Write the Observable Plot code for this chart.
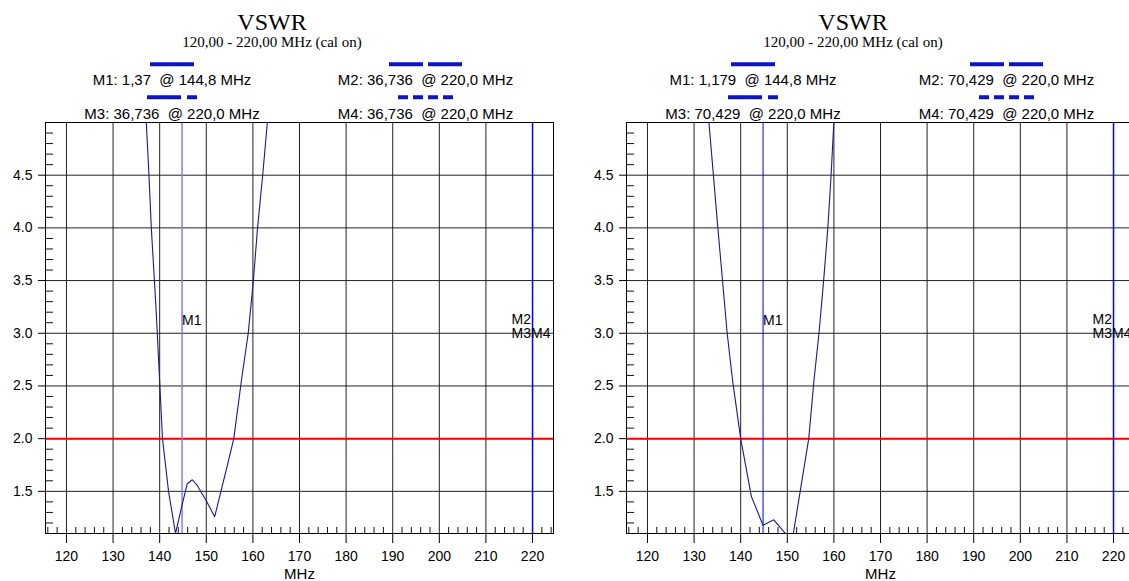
<!DOCTYPE html>
<html><head><meta charset="utf-8">
<script src="https://cdn.jsdelivr.net/npm/d3@7"></script>
<script src="https://cdn.jsdelivr.net/npm/@observablehq/plot@0.6"></script>
<style>
html,body{margin:0;padding:0;background:#fff;}
#root{position:relative;width:1129px;height:581px;overflow:hidden;background:#fff;}
.panel{position:absolute;top:0;width:580px;height:581px;}
.panel svg{position:absolute;left:0;top:0;}
</style></head><body><div id="root"></div>
<script>
// ---- data ----
const chartTitle = "VSWR";
const chartSubtitle = "120,00 - 220,00 MHz (cal on)";
const xLabel = "MHz";
const xTicks = [120, 130, 140, 150, 160, 170, 180, 190, 200, 210, 220];
const yTicks = [1.5, 2.0, 2.5, 3.0, 3.5, 4.0, 4.5];
const xMinor = [116,118,122,124,126,128,132,134,136,138,142,144,146,148,152,154,156,158,162,164,166,168,172,174,176,178,182,184,186,188,192,194,196,198,202,204,206,208,212,214,216,218,222,224];
const yMinor = [1.2,1.3,1.4,1.6,1.7,1.8,1.9,2.1,2.2,2.3,2.4,2.6,2.7,2.8,2.9,3.1,3.2,3.3,3.4,3.6,3.7,3.8,3.9,4.1,4.2,4.3,4.4,4.6,4.7,4.8,4.9];
const limitVSWR = 2.0;
const markerM1 = 144.8;
const markerM234 = 220.0;

// left chart
const freqA = [136.9, 137.7, 138.2, 139.25, 140.0, 140.6, 141.9, 143.4, 144.8, 145.9, 147.0, 148.0, 150.0, 151.8, 154.6, 155.9, 157.5, 159.0, 160.1, 161.0, 162.1, 163.3];
const vswrA = [5.2, 4.5, 4.0, 3.21, 2.54, 2.0, 1.5, 1.1, 1.37, 1.57, 1.61, 1.56, 1.41, 1.26, 1.76, 2.0, 2.54, 3.0, 3.5, 4.0, 4.5, 5.1];
const legendA = ["M1: 1,37  @ 144,8 MHz", "M2: 36,736  @ 220,0 MHz", "M3: 36,736  @ 220,0 MHz", "M4: 36,736  @ 220,0 MHz"];

// right chart
const freqB = [133.0, 135.1, 137.1, 138.3, 140.0, 142.3, 144.8, 147.1, 149.6, 150.5, 151.3, 154.6, 155.7, 156.8, 157.8, 158.7, 159.4, 160.1];
const vswrB = [5.1, 4.0, 3.0, 2.54, 2.0, 1.45, 1.179, 1.23, 1.1, 1.0, 1.1, 2.0, 2.54, 3.0, 3.5, 4.0, 4.5, 5.1];
const legendB = ["M1: 1,179  @ 144,8 MHz", "M2: 70,429  @ 220,0 MHz", "M3: 70,429  @ 220,0 MHz", "M4: 70,429  @ 220,0 MHz"];

// ---- drawing ----
const sans = "'Liberation Sans', Arial, sans-serif";
const serif = "'Liberation Serif', 'Times New Roman', serif";
const gridColor = "#222";
const curveColor = "#1a1a8c";
const legendColor = "#0a14c8";

function panel(left, freq, vswr, legend, m1Color, m1Width) {
  const div = document.createElement("div");
  div.className = "panel";
  div.style.left = left + "px";
  document.getElementById("root").appendChild(div);

  const data = freq.map((f, i) => ({f, v: vswr[i]}));
  const chart = Plot.plot({
    width: 580, height: 581,
    marginTop: 122, marginBottom: 48, marginLeft: 45, marginRight: 27,
    x: {domain: [115.5, 224.5]},
    y: {domain: [1.1, 5.0]},
    style: {fontFamily: sans, fontSize: "14px", color: "black", background: "transparent", overflow: "visible"},
    marks: [
      Plot.ruleX(xTicks, {stroke: gridColor}),
      Plot.ruleY(yTicks, {stroke: gridColor}),
      Plot.tickY(yMinor, {y: d => d, insetRight: 500, stroke: "#111"}),
      Plot.tickX(xMinor, {x: d => d, insetTop: 405, stroke: "#111"}),
      Plot.ruleY([limitVSWR], {stroke: "#ff0000", strokeWidth: 2}),
      Plot.ruleX([markerM1], {stroke: m1Color, strokeWidth: m1Width}),
      Plot.ruleX([markerM234], {stroke: "#0000ff", strokeWidth: 1.5}),
      Plot.line(data, {x: "f", y: "v", stroke: curveColor, strokeWidth: 1.1, clip: true}),
      Plot.text(["M1"], {x: () => markerM1, y: () => 3.0, text: d => d, textAnchor: "start", lineAnchor: "bottom", dx: 0, dy: -8, fontSize: 14}),
      Plot.text(["M2"], {x: () => markerM234, y: () => 3.0, text: d => d, textAnchor: "start", lineAnchor: "bottom", dx: -21, dy: -9, fontSize: 14}),
      Plot.text(["M3M4"], {x: () => markerM234, y: () => 3.0, text: d => d, textAnchor: "start", lineAnchor: "bottom", dx: -21, dy: 5, fontSize: 14}),
      Plot.axisX({ticks: xTicks, tickSize: 10, tickPadding: 8, fontSize: 14, label: null, stroke: "black"}),
      Plot.axisY({ticks: yTicks, tickSize: 7, tickPadding: 6, fontSize: 14, label: null, tickFormat: d => d.toFixed(1), stroke: "black"}),
      Plot.text([xLabel], {frameAnchor: "bottom", dy: 45, lineAnchor: "bottom", fontSize: 15}),
      Plot.frame({stroke: "black"})
    ]
  });
  div.appendChild(chart);

  // header: title, subtitle, marker legend
  const hdr = d3.select(div).append("svg").attr("width", 580).attr("height", 122);
  hdr.append("text").attr("x", 272).attr("y", 30).attr("text-anchor", "middle")
    .style("font-family", serif).style("font-size", "24px").text(chartTitle);
  hdr.append("text").attr("x", 272).attr("y", 47).attr("text-anchor", "middle")
    .style("font-family", serif).style("font-size", "15px").text(chartSubtitle);
  const samples = [
    {x1: 150, x2: 194, y: 64.3, dash: null},
    {x1: 389, x2: 462, y: 64.3, dash: "34 5"},
    {x1: 147, x2: 197, y: 97.3, dash: "34 6 10 6"},
    {x1: 398, x2: 454, y: 97.3, dash: "10 5"}
  ];
  const labelPos = [{x: 172, y: 85}, {x: 425.5, y: 85}, {x: 172, y: 118.5}, {x: 425.5, y: 118.5}];
  samples.forEach((s, i) => {
    hdr.append("line").attr("x1", s.x1).attr("x2", s.x2).attr("y1", s.y).attr("y2", s.y)
      .attr("stroke", legendColor).attr("stroke-width", 4).attr("stroke-dasharray", s.dash);
    hdr.append("text").attr("x", labelPos[i].x).attr("y", labelPos[i].y).attr("text-anchor", "middle")
      .style("font-family", sans).style("font-size", "15px").style("white-space", "pre")
      .text(legend[i]);
  });
}

panel(0, freqA, vswrA, legendA, "#8080ff", 1.5);
panel(581, freqB, vswrB, legendB, "#0000ff", 1);
</script>
</body></html>
